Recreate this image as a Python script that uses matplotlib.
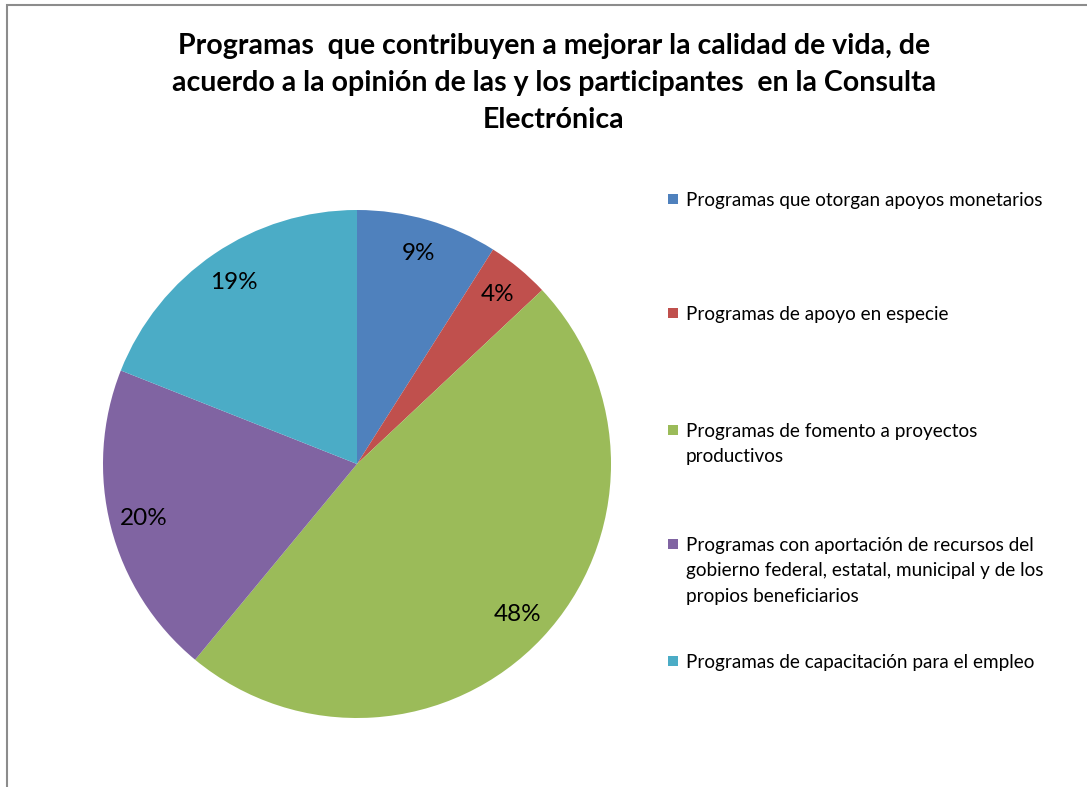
import matplotlib.pyplot as plt
from matplotlib.patches import Rectangle

# --- Datos ---
categorias = [
    "Programas que otorgan apoyos monetarios",
    "Programas de apoyo en especie",
    "Programas de fomento a proyectos\nproductivos",
    "Programas con aportación de recursos del\ngobierno federal, estatal, municipal y de los\npropios beneficiarios",
    "Programas de capacitación para el empleo",
]
porcentajes = [9, 4, 48, 20, 19]
colores = ["#4F81BD", "#C0504D", "#9BBB59", "#8064A2", "#4BACC6"]

titulo = ("Programas  que contribuyen a mejorar la calidad de vida, de\n"
          "acuerdo a la opinión de las y los participantes  en la Consulta\n"
          "Electrónica")

W, H = 1087, 787
fig = plt.figure(figsize=(W / 100, H / 100), dpi=100)
fig.patch.set_facecolor("white")

# marco del gráfico (recortado a la derecha y abajo)
fig.patches.append(Rectangle((7 / W, -0.05), 1.2, 1 - 5 / H + 0.05,
                             transform=fig.transFigure, fill=False,
                             edgecolor="#8c8c8c", linewidth=1.5))

# --- Pastel ---
cx, cy, r = 357, 464, 254
ax = fig.add_axes([(cx - r) / W, (H - cy - r) / H, 2 * r / W, 2 * r / H])
wedges, _, autotexts = ax.pie(
    porcentajes, colors=colores, startangle=90, counterclock=False,
    radius=1, autopct="%1.0f%%", pctdistance=0.865,
    wedgeprops=dict(linewidth=0),
    textprops=dict(fontsize=17.5, family="Lato", color="black"),
)
ax.set_xlim(-1, 1)
ax.set_ylim(-1, 1)
ax.set_aspect("equal")
ax.axis("off")

# --- Título ---
fig.text(554 / W, 1 - 33 / H, titulo, ha="center", va="top",
         fontsize=20.5, fontweight="bold", family="Lato",
         linespacing=1.53)

# --- Leyenda ---
leyenda_y = [199, 313, 430, 544, 661]
for etiqueta, color, y in zip(categorias, colores, leyenda_y):
    fig.patches.append(Rectangle((668 / W, 1 - (y + 5) / H), 10 / W, 10 / H,
                                 transform=fig.transFigure, facecolor=color,
                                 edgecolor="none"))
    fig.text(686 / W, 1 - (y - 7) / H, etiqueta, ha="left", va="top",
             fontsize=13.6, family="Lato", linespacing=1.6)

fig.savefig("out.png", dpi=100, facecolor="white")
